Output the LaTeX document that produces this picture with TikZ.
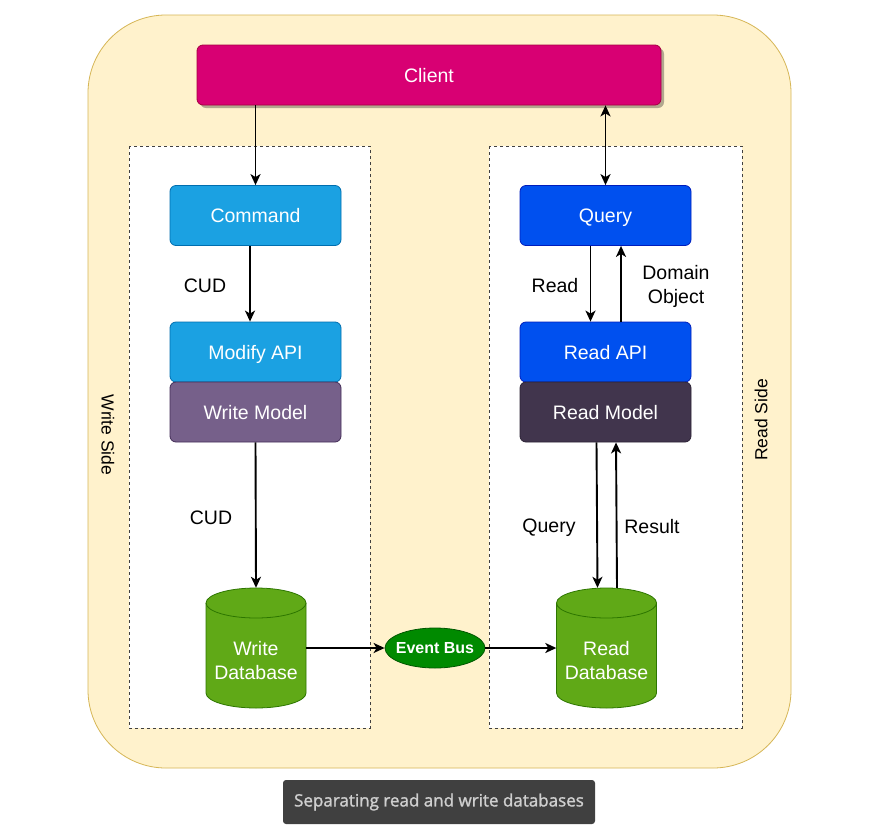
\documentclass[tikz,border=0pt]{standalone}
\usepackage{fontspec}
\setmainfont{Liberation Sans}
\newfontfamily\legendefont[FakeBold=1.4]{Open Sans}
\usetikzlibrary{arrows.meta,shapes.geometric,shadows}
\definecolor{fondjaune}{HTML}{FFF2CC}
\definecolor{bordjaune}{HTML}{D6B656}
\definecolor{clientrose}{HTML}{D80073}
\definecolor{clientbord}{HTML}{A50040}
\definecolor{cmdbleu}{HTML}{1BA1E2}
\definecolor{cmdbord}{HTML}{006EAF}
\definecolor{querybleu}{HTML}{0050EF}
\definecolor{querybord}{HTML}{001DBC}
\definecolor{ecritviolet}{HTML}{76608A}
\definecolor{ecritbord}{HTML}{432D57}
\definecolor{lireviolet}{HTML}{41354D}
\definecolor{lirebord}{HTML}{2B2235}
\definecolor{basevert}{HTML}{60A917}
\definecolor{basebord}{HTML}{2D7600}
\definecolor{busvert}{HTML}{008A00}
\definecolor{busbord}{HTML}{005700}
\definecolor{legendefond}{HTML}{404040}
\definecolor{legendetexte}{HTML}{CFCFCF}

\begin{document}
\begin{tikzpicture}[x=1pt, y=-1pt, >={Stealth[length=11pt,width=10pt,inset=3pt]}]
\tikzset{
  boite/.style={draw, rounded corners=6pt, minimum width=171pt, minimum height=60pt,
    text=white, line width=0.8pt, text depth=0pt, font=\fontsize{19.5}{24}\selectfont},
  etiq/.style={font=\fontsize{19.5}{24}\selectfont, align=center},
  cote/.style={draw=black!75, fill=white, line width=0.8pt, dash pattern=on 3pt off 3pt},
  fleche/.style={->, line width=1.9pt},
  base/.style={fill=basevert, draw=basebord, line width=0.8pt}
}
\useasboundingbox (0,0) rectangle (880,833);
\fill[white] (0,0) rectangle (880,833);

% fond
\draw[fill=fondjaune, draw=bordjaune, line width=0.8pt, rounded corners=78pt] (88,15) rectangle (791,768);
\draw[cote] (129,146) rectangle (370,728);
\draw[cote] (489,146) rectangle (742,728);
\node[rotate=-90, font=\fontsize{17.5}{20}\selectfont] (wside) at (108,435) {Write Side};
\node[rotate=90, font=\fontsize{17.5}{20}\selectfont] (rside) at (761,420) {Read Side};

% client
\node[boite, fill=clientrose, draw=clientbord, minimum width=464pt,
  drop shadow={shadow xshift=3pt, shadow yshift=-3pt, opacity=0.3, fill=black}] (client) at (429,75) {Client};

% cote ecriture
\node[boite, fill=cmdbleu, draw=cmdbord] (cmd) at (255.5,215.5) {Command};
\node[boite, fill=cmdbleu, draw=cmdbord] (modapi) at (255.5,352) {Modify API};
\node[boite, fill=ecritviolet, draw=ecritbord] (wmodel) at (255.5,412) {Write Model};

% cote lecture
\node[boite, fill=querybleu, draw=querybord] (query) at (605.5,215.5) {Query};
\node[boite, fill=querybleu, draw=querybord] (rapi) at (605.5,352) {Read API};
\node[boite, fill=lireviolet, draw=lirebord] (rmodel) at (605.5,412) {Read Model};

% bases
\foreach \cx in {256,606.5} {
  \filldraw[base] (\cx-50,603) -- (\cx-50,693) arc[start angle=180, end angle=0, x radius=50, y radius=15]
    -- (\cx+50,603) arc[start angle=0, end angle=-180, x radius=50, y radius=15] -- cycle;
  \draw[draw=basebord, line width=0.8pt] (\cx-50,603) arc[start angle=180, end angle=0, x radius=50, y radius=15];
}
\node[minimum width=100pt, minimum height=120pt, inner sep=0pt] (wdb) at (256,648) {};
\node[minimum width=100pt, minimum height=120pt, inner sep=0pt] (rdb) at (606.5,648) {};
\node[etiq, text=white] (wdbtexte) at (256,661) {Write\\Database};
\node[etiq, text=white] (rdbtexte) at (606.5,661) {Read\\Database};

\node[ellipse, fill=busvert, draw=busbord, line width=0.8pt, minimum width=100pt, minimum height=40pt,
  inner sep=0pt, text=white, font=\bfseries\fontsize{16}{19}\selectfont] (bus) at (435,648) {\makebox[0pt]{Event Bus}};

% etiquettes
\node[etiq] (cud1) at (205,286) {CUD};
\node[etiq] (cud2) at (211,518) {CUD};
\node[etiq] (lread) at (555,286) {Read};
\node[etiq] (ldomain) at (676,286) {Domain\\Object};
\node[etiq] (lquery) at (549,528) {Query};
\node[etiq] (lresult) at (652,527) {Result};

% fleches
\draw[fleche] (cmd.north |- client.south) -- (cmd.north);
\draw[fleche, <->] (query.north |- client.south) -- (query.north);
\draw[fleche] ([xshift=-5.5pt]cmd.south) -- ([xshift=-5.5pt]modapi.north);
\draw[fleche] (wmodel.south) -- (wdb.north);
\draw[fleche] ([xshift=-15pt]query.south) -- ([xshift=-15pt]rapi.north);
\draw[fleche] ([xshift=15.5pt]rapi.north) -- ([xshift=15.5pt]query.south);
\draw[fleche] ([xshift=-9pt]rmodel.south) -- ([xshift=-9pt]rdb.north);
\draw[fleche] ([xshift=10.5pt]rdb.north) -- ([xshift=10.5pt]rmodel.south);
\draw[fleche] (wdb.east) -- (bus.west);
\draw[fleche] (bus.east) -- (rdb.west);

% legende
\node[fill=legendefond, rounded corners=3pt, minimum width=312pt, minimum height=44pt,
  text=legendetexte, font=\legendefont\fontsize{17}{20}\selectfont] (legende) at (439,802) {Separating read and write databases};
\end{tikzpicture}
\end{document}
